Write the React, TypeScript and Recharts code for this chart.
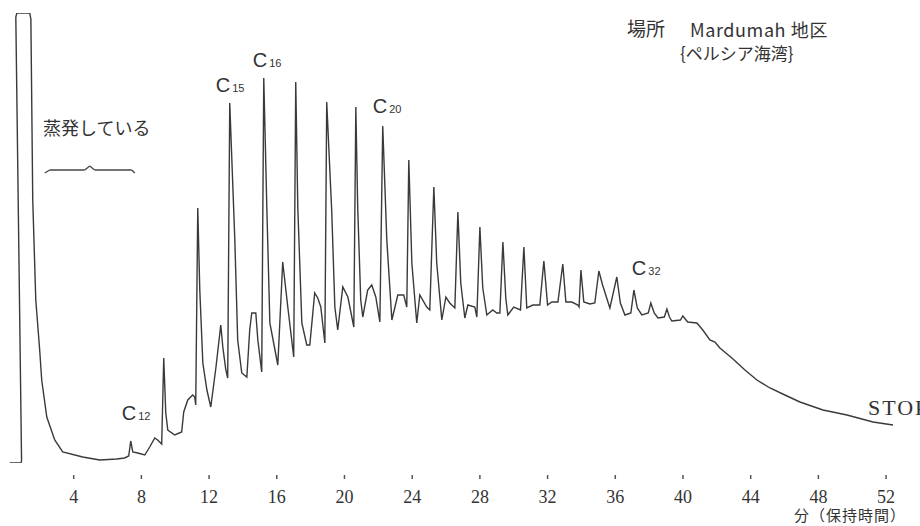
import { LineChart, Line, XAxis, YAxis, ReferenceLine, ReferenceDot } from "recharts";

// retention time (min) and detector response (arbitrary units)
const retentionTimes = [
  0.22, 0.88, 0.92, 0.58, 0.64, 1.4, 1.47, 1.58, 1.76, 1.99, 2.11, 2.41, 2.88, 3.35, 4.53, 5.54,
  6.54, 7.01, 7.25, 7.37, 7.49, 7.78, 8.2, 8.49, 8.79, 8.96, 9.2, 9.32, 9.44, 9.56, 9.97, 10.38,
  10.5, 10.74, 11.03, 11.15, 11.21, 11.33, 11.45, 11.63, 11.87, 12.1, 12.4, 12.69, 12.81, 12.99,
  13.1, 13.22, 13.52, 13.69, 13.93, 14.23, 14.4, 14.52, 14.76, 14.88, 15.11, 15.23, 15.41, 15.59,
  16.06, 16.35, 16.65, 17.0, 17.12, 17.24, 17.48, 17.77, 17.95, 18.24, 18.42, 18.6, 18.84, 18.95,
  19.25, 19.43, 19.6, 19.9, 20.2, 20.55, 20.67, 20.78, 20.96, 21.08, 21.37, 21.61, 21.85, 22.09,
  22.26, 22.5, 22.8, 23.15, 23.5, 23.68, 23.8, 23.98, 24.27, 24.45, 24.86, 25.04, 25.28, 25.45,
  25.75, 25.99, 26.22, 26.52, 26.7, 26.87, 27.11, 27.29, 27.7, 27.82, 28.0, 28.17, 28.41, 28.76,
  29.0, 29.18, 29.36, 29.53, 29.65, 30.0, 30.4, 30.6, 30.77, 31.13, 31.54, 31.78, 32.0, 32.25,
  32.61, 32.9, 33.08, 33.43, 33.79, 33.86, 33.97, 34.14, 34.5, 34.79, 34.88, 35.03, 35.25, 35.68,
  36.09, 36.3, 36.57, 36.92, 37.1, 37.3, 37.57, 37.95, 38.1, 38.3, 38.52, 38.9, 39.05, 39.2,
  39.34, 39.85, 39.99, 40.28, 40.82, 41.17, 41.59, 41.89, 42.18, 42.89, 43.66, 44.37, 45.14,
  46.02, 46.91, 48.27, 49.69, 51.23, 52.41,
];
const detectorSignal = [
  0, 0, 2, 446, 450, 450, 444, 263, 163, 113, 83, 46, 23, 11, 6, 3,
  4, 5, 7, 22, 11, 10, 8, 16, 25, 23, 19, 105, 50, 33, 28, 31,
  51, 63, 68, 66, 58, 255, 173, 100, 73, 56, 95, 138, 116, 93,
  85, 360, 223, 123, 90, 86, 133, 150, 150, 123, 91, 385, 256, 140,
  98, 201, 156, 106, 381, 256, 140, 118, 118, 170, 165, 156, 120, 361,
  250, 156, 133, 176, 166, 136, 356, 256, 163, 146, 173, 178, 166, 141,
  337, 223, 143, 168, 168, 156, 303, 200, 140, 168, 156, 153, 276, 200,
  143, 166, 160, 155, 251, 180, 145, 158, 156, 146, 236, 175, 148, 153,
  150, 150, 221, 165, 148, 156, 153, 216, 155, 158, 158, 202, 158, 161,
  161, 199, 161, 161, 158, 156, 193, 161, 159, 160, 172, 192, 178, 155,
  186, 160, 148, 150, 173, 155, 148, 150, 160, 150, 145, 146, 154, 146,
  142, 143, 147, 141, 140, 133, 123, 121, 115, 105, 93, 83, 75,
  68, 61, 53, 48, 41, 38,
];

const timeTicks = [4, 8, 12, 16, 20, 24, 28, 32, 36, 40, 44, 48, 52];

// carbon-number labels (placed at their spot in data units)
const peakLabels = ["12", "15", "16", "20", "32"];
const peakLabelTimes = [6.84, 12.39, 14.58, 21.67, 36.98];
const peakLabelLevels = [43, 371, 396, 350, 188];

// brace under 蒸発している
const braceTimes = [2.29, 2.58, 4.65, 4.95, 5.24, 7.43, 7.61];
const braceLevels = [290, 293, 293, 297, 293, 293, 290];

const trace = retentionTimes.map((t, i) => ({ t, signal: detectorSignal[i] }));
const braceSegments = braceTimes.slice(1).map((t, i) => [
  { x: braceTimes[i], y: braceLevels[i] },
  { x: t, y: braceLevels[i + 1] },
]);

const INK = "#333";
const JP_FONT = "'Noto Sans CJK JP', 'Noto Sans', sans-serif";

function TimeTick({ x, y, payload }: any) {
  return (
    <g>
      <line x1={x} x2={x} y1={y + 12} y2={y + 16} stroke="#555" strokeWidth={1.5} />
      <text
        x={x}
        y={y + 40}
        textAnchor="middle"
        fontFamily="'Liberation Serif', serif"
        fontSize={18}
        fill={INK}
      >
        {payload.value}
      </text>
    </g>
  );
}

function carbonLabel(sub: string) {
  return ({ cx, cy }: any) => (
    <text x={cx} y={cy} fontFamily="'Liberation Sans', sans-serif" fill={INK}>
      <tspan fontSize={20}>C</tspan>
      <tspan fontSize={11} dx={2}>
        {sub}
      </tspan>
    </text>
  );
}

function stopLabel({ cx, cy }: any) {
  return (
    <text
      x={cx}
      y={cy}
      fontFamily="'Liberation Serif', serif"
      fontSize={22}
      letterSpacing={2}
      fill={INK}
    >
      STOP
    </text>
  );
}

export default function App() {
  return (
    <div
      style={{
        position: "absolute",
        left: 0,
        top: 0,
        width: 920,
        height: 526,
        overflow: "hidden",
        background: "#fff",
      }}
    >
      <LineChart
        width={920}
        height={526}
        data={trace}
        margin={{ top: 13, right: 17, bottom: 3, left: 6 }}
      >
        <XAxis
          dataKey="t"
          type="number"
          domain={[0, 53]}
          ticks={timeTicks}
          interval={0}
          allowDataOverflow
          axisLine={false}
          tickLine={false}
          tickSize={0}
          tickMargin={0}
          height={60}
          tick={(props: any) => <TimeTick {...props} />}
        />
        <YAxis hide type="number" domain={[0, 450]} allowDataOverflow />
        {braceSegments.map((seg, i) => (
          <ReferenceLine key={i} segment={seg} stroke="#444" strokeWidth={1.3} />
        ))}
        <Line
          type="linear"
          dataKey="signal"
          stroke="#3a3a3a"
          strokeWidth={1.4}
          dot={false}
          isAnimationActive={false}
        />
        {peakLabels.map((sub, i) => (
          <ReferenceDot
            key={sub}
            x={peakLabelTimes[i]}
            y={peakLabelLevels[i]}
            shape={carbonLabel(sub)}
          />
        ))}
        <ReferenceDot x={50.93} y={48} shape={stopLabel} />
      </LineChart>
      <svg
        width={920}
        height={526}
        style={{ position: "absolute", left: 0, top: 0, pointerEvents: "none" }}
      >
        <g fontFamily={JP_FONT} fill={INK}>
          <text x={627} y={36} fontSize={19}>
            場所
          </text>
          <text x={690} y={37} fontSize={18} letterSpacing={0.6}>
            Mardumah 地区
          </text>
          <text x={680} y={60} fontSize={17}>
            {"{ペルシア海湾}"}
          </text>
          <text x={43} y={135} fontSize={18}>
            蒸発している
          </text>
          <text x={794} y={521} fontSize={15} letterSpacing={1}>
            分（保持時間）
          </text>
        </g>
      </svg>
    </div>
  );
}
